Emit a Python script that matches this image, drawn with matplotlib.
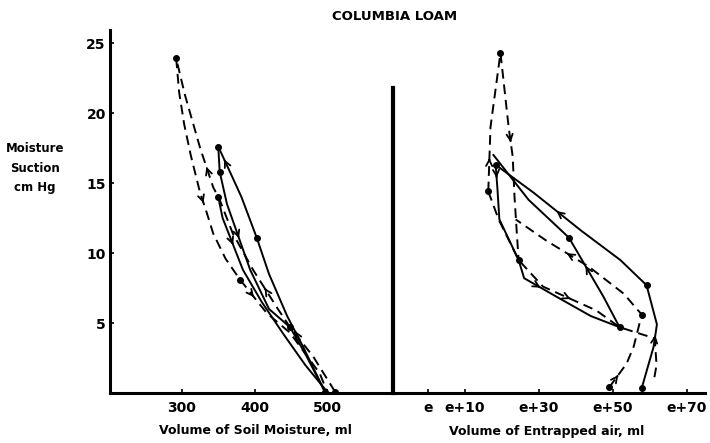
import matplotlib
matplotlib.use("Agg")
import matplotlib.pyplot as plt
import numpy as np

# ---------------- data ----------------
title = "COLUMBIA LOAM"
ylabel_text = "Moisture\nSuction\ncm Hg"
left_xlabel = "Volume of Soil Moisture, ml"
right_xlabel = "Volume of Entrapped air, ml"

y_ticks = [5, 10, 15, 20, 25]
left_ticks = [300, 400, 500]
right_ticks = [0, 10, 30, 50, 70]
right_ticklabels = ["e", "e+10", "e+30", "e+50", "e+70"]
divider_top = 21.8

# Left panel: soil moisture (ml) vs suction (cm Hg)
ld1_x = [292, 296, 303, 312, 325, 334, 343, 360, 380, 417, 449, 490, 500]
ld1_y = [23.9, 21.5, 19.2, 17.0, 14.3, 12.9, 11.4, 9.6, 8.1, 5.7, 4.3, 1.4, 0.1]
ld2_x = [511, 481, 449, 431, 398, 370, 352, 343, 325, 304, 292]
ld2_y = [0.1, 2.6, 4.7, 6.1, 8.8, 11.4, 13.8, 14.7, 17.5, 21.3, 23.9]
ls1_x = [497, 467, 445, 420, 403, 382, 367, 350]
ls1_y = [0.1, 3.3, 5.5, 8.5, 11.1, 14.0, 15.7, 17.6]
ls2_x = [350, 352, 362, 394, 420, 449, 470, 497]
ls2_y = [17.6, 15.8, 13.5, 8.8, 6.0, 4.7, 2.8, 0.1]
ls3_x = [350, 356, 384, 410, 440, 470, 500]
ls3_y = [14.0, 12.5, 8.8, 6.5, 4.2, 2.0, 0.1]
left_dots_x = [292, 380, 350, 352, 350, 403, 449, 497, 511]
left_dots_y = [23.9, 8.1, 17.6, 15.8, 14.0, 11.1, 4.7, 0.1, 0.1]

# Right panel: entrapped air (ml above e) vs suction
rd1_x = [49.0, 53.7, 55.6, 57.8, 52.9, 43.6, 31.9, 23.7]
rd1_y = [0.4, 2.1, 3.3, 5.6, 7.1, 9.0, 10.9, 12.4]
rd2_x = [16.3, 16.9, 19.6, 21.8, 22.9, 23.4, 24.0, 24.5]
rd2_y = [14.4, 19.0, 24.3, 19.0, 16.9, 14.0, 11.5, 9.5]
rd3_x = [16.3, 19.1, 24.5, 31.1, 45.5, 51.8, 61.3, 61.8, 61.0]
rd3_y = [14.4, 12.4, 9.5, 7.6, 5.9, 4.7, 3.9, 2.0, 0.8]
rs1_x = [57.8, 61.0, 61.9, 59.1, 52.0, 41.4, 28.6, 18.3]
rs1_y = [0.36, 3.3, 4.9, 7.7, 9.5, 11.6, 14.3, 16.3]
rs2_x = [18.3, 18.8, 19.3, 24.5, 26.0, 34.6, 44.0, 51.8, 47.4, 38.1, 27.2, 17.7]
rs2_y = [16.3, 14.5, 12.4, 9.5, 8.2, 6.9, 5.5, 4.7, 6.9, 11.1, 13.8, 17.0]
right_dots_x = [19.6, 16.3, 18.3, 24.5, 38.1, 51.8, 57.8, 59.1, 49.0, 57.8]
right_dots_y = [24.3, 14.4, 16.3, 9.5, 11.1, 4.7, 5.6, 7.7, 0.4, 0.36]

# ---------------- figure ----------------
W, H = 710, 443
fig = plt.figure(figsize=(W / 100, H / 100), dpi=100)
bold = dict(fontweight="bold", family="DejaVu Sans")

axL = fig.add_axes([110 / W, 50 / H, 283 / W, 363 / H])
axR = fig.add_axes([393 / W, 50 / H, 312 / W, 363 / H])

ylim = (0, 25.93)
for ax in (axL, axR):
    ax.set_ylim(*ylim)
    ax.spines["top"].set_visible(False)
    ax.spines["right"].set_visible(False)
    ax.spines["bottom"].set_linewidth(2.2)
    ax.patch.set_alpha(0)

axL.set_xlim(200.7, 591)
axR.set_xlim(-9.46, 74.9)

axL.spines["left"].set_linewidth(2.2)
axL.set_yticks(y_ticks)
axL.set_yticklabels([str(v) for v in y_ticks], **bold, fontsize=10)
axL.set_xticks(left_ticks)
axL.set_xticklabels([str(v) for v in left_ticks], **bold, fontsize=10)
axL.tick_params(axis="both", direction="in", length=3, width=1.2)
axL.tick_params(axis="y", pad=3)
axL.tick_params(axis="x", pad=6)

axR.spines["left"].set_linewidth(3)
axR.spines["left"].set_bounds(0, divider_top)
axR.set_yticks([])
axR.set_xticks(right_ticks)
axR.set_xticklabels(right_ticklabels, **bold, fontsize=10)
axR.tick_params(axis="x", direction="in", length=3, width=1.2, pad=6)

lw = 1.4
dash = (0, (5, 3))


def arrow(ax, xs, ys, i, frac=0.5, rev=False):
    x0, y0, x1, y1 = xs[i], ys[i], xs[i + 1], ys[i + 1]
    if rev:
        x0, y0, x1, y1 = x1, y1, x0, y0
    xa = x0 + (frac - 0.02) * (x1 - x0)
    ya = y0 + (frac - 0.02) * (y1 - y0)
    xb = x0 + (frac + 0.02) * (x1 - x0)
    yb = y0 + (frac + 0.02) * (y1 - y0)
    ax.annotate("", xy=(xb, yb), xytext=(xa, ya),
                arrowprops=dict(arrowstyle="->", lw=1.3, color="black",
                                mutation_scale=11, shrinkA=0, shrinkB=0))


# left curves
axL.plot(ld1_x, ld1_y, color="black", lw=lw, ls=dash)
axL.plot(ld2_x, ld2_y, color="black", lw=lw, ls=dash)
axL.plot(ls1_x, ls1_y, color="black", lw=lw)
axL.plot(ls2_x, ls2_y, color="black", lw=lw)
axL.plot(ls3_x, ls3_y, color="black", lw=lw)
axL.plot(left_dots_x, left_dots_y, "o", color="black", ms=4, ls="none")
arrow(axL, ld1_x, ld1_y, 4)
arrow(axL, ld1_x, ld1_y, 8)
arrow(axL, ld2_x, ld2_y, 7)
arrow(axL, ld2_x, ld2_y, 3)
arrow(axL, ls1_x, ls1_y, 6)
arrow(axL, ls1_x, ls1_y, 1)
arrow(axL, ls2_x, ls2_y, 2)
arrow(axL, ls3_x, ls3_y, 1)

# right curves
axR.plot(rd1_x, rd1_y, color="black", lw=lw, ls=dash)
axR.plot(rd2_x, rd2_y, color="black", lw=lw, ls=dash)
axR.plot(rd3_x, rd3_y, color="black", lw=lw, ls=dash)
axR.plot(rs1_x, rs1_y, color="black", lw=lw)
axR.plot(rs2_x, rs2_y, color="black", lw=lw)
axR.plot(right_dots_x, right_dots_y, "o", color="black", ms=4, ls="none")
arrow(axR, rd1_x, rd1_y, 0)
arrow(axR, rd1_x, rd1_y, 5)
arrow(axR, rd2_x, rd2_y, 0)
arrow(axR, rd2_x, rd2_y, 3)
arrow(axR, rd3_x, rd3_y, 3)
arrow(axR, rs1_x, rs1_y, 1)
arrow(axR, rs1_x, rs1_y, 5)
arrow(axR, rs2_x, rs2_y, 4)
arrow(axR, rs2_x, rs2_y, 8)
arrow(axR, rs2_x, rs2_y, 0)

# texts
fig.text(395 / W, 1 - 17 / H, title, ha="center", va="center", fontsize=9.5, **bold)
fig.text(35 / W, 1 - 168 / H, ylabel_text, ha="center", va="center",
         fontsize=8.5, linespacing=1.6, **bold)
fig.text(255 / W, 1 - 431 / H, left_xlabel, ha="center", va="center", fontsize=9, **bold)
fig.text(547 / W, 1 - 431 / H, right_xlabel, ha="center", va="center", fontsize=9, **bold)

fig.savefig("out.png", dpi=100)
